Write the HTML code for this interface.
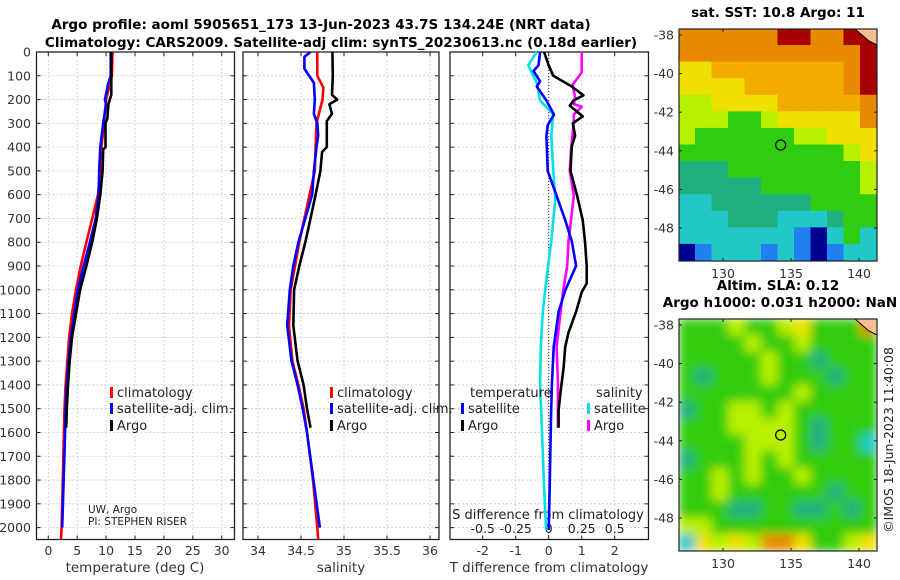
<!DOCTYPE html>
<html><head><meta charset="utf-8"><style>
html,body{margin:0;padding:0;background:#fff;}
svg{display:block;font-family:"DejaVu Sans","Liberation Sans",sans-serif;}
</style></head><body>
<svg id="fig" width="900" height="580" viewBox="0 0 900 580" xmlns="http://www.w3.org/2000/svg">
<g id="titles" font-weight="bold" font-size="13.5" text-anchor="middle">
<text x="321" y="29">Argo profile: aoml 5905651_173 13-Jun-2023 43.7S 134.24E (NRT data)</text>
<text x="341" y="47">Climatology: CARS2009. Satellite-adj clim: synTS_20230613.nc (0.18d earlier)</text>
</g>
<g id="layer"></g>
</svg>
<script>
// ---------- data ----------
const depthTicks = [0,100,200,300,400,500,600,700,800,900,1000,1100,1200,1300,1400,1500,1600,1700,1800,1900,2000];
const tempTicks = [0,5,10,15,20,25,30];
const salTicks = [34,34.5,35,35.5,36];
const salTickLabels = ["34","34.5","35","35.5","36"];
const tdiffTicks = [-2,-1,0,1,2];
const sdiffTickLabels = ["-0.5","-0.25","0","0.25","0.5"];
const sdiffTicks = [-0.5,-0.25,0,0.25,0.5];

const climTDepth = [0,100,200,300,400,500,600,700,800,900,1000,1100,1200,1300,1400,1500,1600,1800,2000,2050];
const climT = [11.1,11.0,10.0,9.6,9.2,9.0,8.6,7.6,6.6,5.6,4.8,4.1,3.6,3.3,3.0,2.8,2.7,2.5,2.3,2.2];
const satTDepth = [0,100,130,200,220,300,400,500,600,700,800,900,1000,1100,1200,1300,1400,1500,1600,2000];
const satT = [10.8,10.8,10.4,9.8,10.0,9.5,9.0,8.8,8.7,8.2,7.2,6.1,5.1,4.5,3.9,3.5,3.2,3.0,2.9,2.4];
const argoTDepth = [0,100,180,220,280,300,400,410,500,600,700,800,900,1000,1100,1200,1300,1400,1500,1580];
const argoT = [10.9,10.9,10.9,10.4,10.2,9.9,9.9,9.5,9.4,9.0,8.4,7.6,6.6,5.5,4.8,4.1,3.7,3.4,3.2,3.1];

const climSDepth = [0,100,150,200,300,400,500,600,700,800,900,1000,1150,1300,1400,1500,1600,1800,2000,2050];
const climS = [34.69,34.69,34.76,34.75,34.68,34.67,34.66,34.60,34.54,34.48,34.43,34.38,34.36,34.40,34.47,34.53,34.57,34.64,34.69,34.70];
const satSDepth = [0,20,70,130,200,260,300,350,400,500,600,700,800,900,1000,1150,1300,1400,1500,1600,2000];
const satS = [34.61,34.54,34.54,34.65,34.66,34.65,34.69,34.70,34.68,34.65,34.63,34.55,34.47,34.41,34.37,34.34,34.39,34.46,34.52,34.57,34.72];
const argoSDepth = [0,100,180,200,220,260,290,400,420,500,600,700,800,900,1000,1150,1300,1400,1500,1580];
const argoS = [34.865,34.87,34.86,34.92,34.83,34.86,34.80,34.80,34.745,34.725,34.67,34.61,34.55,34.48,34.42,34.41,34.46,34.53,34.57,34.61];

const argoTdDepth = [0,56,100,145,182,204,226,271,300,352,396,500,604,707,796,899,973,1010,1092,1180,1240,1328,1417,1506,1580];
const argoTd = [-0.14,0,0.14,0.7,1.05,0.75,0.64,1.03,0.73,0.8,0.7,0.66,0.86,1.03,1.1,1.15,1.15,1.0,0.83,0.6,0.5,0.45,0.37,0.3,0.3];
const satTdDepth = [0,56,80,123,145,204,263,308,352,500,589,707,796,899,1003,1092,1240,1387,1535,1831,2009];
const satTd = [-0.26,-0.31,-0.46,-0.26,-0.36,-0.07,0.16,-0.03,-0.07,-0.03,0.2,0.5,0.7,0.83,0.5,0.3,0.15,0.1,0.07,0.03,0];
const satSdDepth = [0,56,130,204,263,352,500,618,796,944,1092,1240,1387,1535,1831,2009];
const satSd = [-0.09,-0.155,-0.09,-0.065,0.035,0.02,0.035,0.05,0.02,-0.015,-0.045,-0.06,-0.065,-0.055,-0.035,-0.02];
const argoSdDepth = [0,86,138,189,219,230,263,293,411,500,604,796,899,1003,1092,1240,1387,1580];
const argoSd = [0.25,0.25,0.18,0.2,0.19,0.25,0.19,0.19,0.17,0.16,0.19,0.15,0.14,0.11,0.09,0.06,0.07,0.07];

const latTicks = [-38,-40,-42,-44,-46,-48];
const lonTicks = [130,135,140];
const argoLon = 134.24, argoLat = -43.7;

// coarse colour grids (rows top->bottom)
const sstGrid = [
"OOOOOORROORR",
"OOOOOOOOOOOR",
"YYooooooooOR",
"YYYYooooooOR",
"yyYYYYoooooO",
"yyyGGyYYYYYO",
"yGGGGGGyyYYY",
"GGGGGGGGGGyY",
"TTTGGGGGGGGy",
"TTTTTGGGGGGy",
"CCTTTTTTGGGG",
"CCCTTTCCCTGG",
"CCCCCCCBNCGC",
"NBCCCBCBNBCC"];
const slaGrid = [
"GGGyGGyYGGGO",
"GGGGyGGyGGGG",
"GGGGGyGGTGGG",
"GTGGGyGGGTGG",
"GGGGGGGyGGGG",
"TGGyyGyGGGGG",
"GGGyyyyGTGGG",
"GGGGyyyGTGGC",
"TGGGyGyGGGGG",
"GGyGyGGyGGGG",
"GGyGGGGGGTGG",
"GGGTTGGTTGTG",
"yyGGGGGGGGGG",
"CYyYyOOYGGyY"];
const palette = {R:"#a80000",O:"#e88a00",o:"#f2ac00",Y:"#f0e000",y:"#b8f000",G:"#30cc10",T:"#20b080",C:"#20c8c8",B:"#2080f0",N:"#000090"};

// ---------- helpers ----------
const NS = "http://www.w3.org/2000/svg";
const layer = document.getElementById("layer");
function mk(tag, attrs, parent, text){
  const e = document.createElementNS(NS, tag);
  for (const k in attrs) e.setAttribute(k, attrs[k]);
  if (text !== undefined) e.textContent = text;
  (parent||layer).appendChild(e);
  return e;
}
const TOP = 52, BOT = 539.5;
function yD(d){ return TOP + d * (BOT-TOP)/2050; }

const panels = [
  {name:"temperature-panel", x0:36.5, x1:234.5, fx:v=>48.3+v*5.78},
  {name:"salinity-panel", x0:243, x1:439, fx:v=>258+(v-34)*86},
  {name:"difference-panel", x0:450, x1:648.5, fx:v=>548.7+v*33}
];
const fxS = v=>548.7+v*132;

panels.forEach((p,i)=>{
  const g = mk("g",{});
  
  
  depthTicks.forEach(d=>{
    const l = mk("line",{x1:p.x0,x2:p.x1,y1:yD(d),y2:yD(d),stroke:"#c4c8e4","stroke-width":0.8,"stroke-dasharray":"2,2"},g);
    
    
    mk("line",{x1:p.x0,x2:p.x0+4,y1:yD(d),y2:yD(d),stroke:"#222"},g);
    mk("line",{x1:p.x1-4,x2:p.x1,y1:yD(d),y2:yD(d),stroke:"#222"},g);
  });
  const xt = i===0?tempTicks:(i===1?salTicks:tdiffTicks);
  xt.forEach(v=>{
    const x = p.fx(v);
    const l = mk("line",{x1:x,x2:x,y1:TOP,y2:BOT,stroke:"#c4c8e4","stroke-width":0.8,"stroke-dasharray":"2,2"},g);
    
    
    mk("line",{x1:x,x2:x,y1:BOT-4,y2:BOT,stroke:"#222"},g);
    mk("line",{x1:x,x2:x,y1:TOP,y2:TOP+4,stroke:"#222"},g);
    const lab = i===1?salTickLabels[salTicks.indexOf(v)]:String(v);
    const t = mk("text",{x:x,y:555,"font-size":12.5,"text-anchor":"middle",fill:"#333"},g,lab);
    
    
  });
  const fr = mk("rect",{x:p.x0,y:TOP,width:p.x1-p.x0,height:BOT-TOP,fill:"none",stroke:"#222","stroke-width":1.3},g);
  
  
});
depthTicks.forEach(d=>{
  const t = mk("text",{x:31,y:yD(d)+4.5,"font-size":12.5,"text-anchor":"end",fill:"#333"},layer,String(d));
  
  
});
[["temperature (deg C)",135,"x-axis-title-temperature"],["salinity",341,"x-axis-title-salinity"],["T difference from climatology",549,"x-axis-title-t-difference"]].forEach(a=>{
  const t = mk("text",{x:a[1],y:572,"font-size":13.5,"text-anchor":"middle",fill:"#333"},layer,a[0]);
  
  
});
const z = mk("line",{x1:548.7,x2:548.7,y1:TOP,y2:BOT,stroke:"#333","stroke-width":1,"stroke-dasharray":"1,2"});


const sdt = mk("text",{x:548,y:519,"font-size":13,"text-anchor":"middle",fill:"#222"},layer,"S difference from climatology");


sdiffTicks.forEach((v,i)=>{
  const t = mk("text",{x:fxS(v),y:533,"font-size":12.5,"text-anchor":"middle",fill:"#222"},layer,sdiffTickLabels[i]);
  
  
});

function line(depths, vals, fx, color, name){
  const pts = depths.map((d,i)=>fx(vals[i]).toFixed(1)+","+yD(d).toFixed(1)).join(" ");
  const e = mk("polyline",{points:pts,fill:"none",stroke:color,"stroke-width":2.6,"stroke-linejoin":"round"});
  
  
}
line(climTDepth,climT,panels[0].fx,"#ff0000","climatology-temperature-line");
line(satTDepth,satT,panels[0].fx,"#0000ff","satellite-temperature-line");
line(argoTDepth,argoT,panels[0].fx,"#000000","argo-temperature-line");
line(climSDepth,climS,panels[1].fx,"#ff0000","climatology-salinity-line");
line(satSDepth,satS,panels[1].fx,"#0000ff","satellite-salinity-line");
line(argoSDepth,argoS,panels[1].fx,"#000000","argo-salinity-line");
line(satSdDepth,satSd,fxS,"#00e0e8","satellite-s-difference-line");
line(argoSdDepth,argoSd,fxS,"#ff00ff","argo-s-difference-line");
line(satTdDepth,satTd,panels[2].fx,"#0000ff","satellite-t-difference-line");
line(argoTdDepth,argoTd,panels[2].fx,"#000000","argo-t-difference-line");

function legend(x,y,color,label,name){
  const g = mk("g",{});
  
  
  if(color) mk("rect",{x:x,y:y-10,width:3,height:11,fill:color},g);
  mk("text",{x:x+7,y:y,"font-size":13,fill:"#222"},g,label);
}
legend(110,397,"#ff0000","climatology","legend-climatology");
legend(110,413,"#0000ff","satellite-adj. clim.","legend-satellite-adj");
legend(110,430,"#000000","Argo","legend-argo");
legend(330,397,"#ff0000","climatology","legend-climatology-sal");
legend(330,413,"#0000ff","satellite-adj. clim.","legend-satellite-adj-sal");
legend(330,430,"#000000","Argo","legend-argo-sal");
legend(463,397,null,"temperature","legend-temperature-heading");
legend(461,413,"#0000ff","satellite","legend-t-satellite");
legend(461,430,"#000000","Argo","legend-t-argo");
legend(589,397,null,"salinity","legend-salinity-heading");
legend(587,413,"#00e0e8","satellite","legend-s-satellite");
legend(587,430,"#ff00ff","Argo","legend-s-argo");
const c1 = mk("text",{x:88,y:513,"font-size":10.5,fill:"#222"},layer,"UW, Argo");
 
const c2 = mk("text",{x:88,y:525,"font-size":10.5,fill:"#222"},layer,"PI: STEPHEN RISER");
 

function map(y0, grid, title1, title2, name, blur){
  const x0 = 679, w = 198, h = 232;
  const g = mk("g",{});
  
  
  const cw = w/grid[0].length, ch = h/grid.length;
  const cells = mk("g",{"clip-path":"url(#clip"+y0+")",filter:blur?"url(#bl)":""},g);
  const cp = mk("clipPath",{id:"clip"+y0},g);
  mk("rect",{x:x0,y:y0,width:w,height:h},cp);
  grid.forEach((row,r)=>{
    for(let c=0;c<row.length;c++){
      mk("rect",{x:x0+c*cw-0.5,y:y0+r*ch-0.5,width:cw+1,height:ch+1,fill:palette[row[c]]},cells);
    }
  });
  const fy = lat=>y0+6+(-38-lat)*19.3;
  const fxm = lon=>723+(lon-130)*13.6;
  latTicks.forEach(l=>{
    mk("line",{x1:x0,x2:x0+3,y1:fy(l),y2:fy(l),stroke:"#222"},g);
    mk("line",{x1:x0+w-3,x2:x0+w,y1:fy(l),y2:fy(l),stroke:"#222"},g);
    const t = mk("text",{x:x0-5,y:fy(l)+4.5,"font-size":12.5,"text-anchor":"end",fill:"#333"},g,String(l));
     
  });
  lonTicks.forEach(l=>{
    mk("line",{x1:fxm(l),x2:fxm(l),y1:y0+h-3,y2:y0+h,stroke:"#222"},g);
    mk("line",{x1:fxm(l),x2:fxm(l),y1:y0,y2:y0+3,stroke:"#222"},g);
    const t = mk("text",{x:fxm(l),y:y0+h+17,"font-size":12.5,"text-anchor":"middle",fill:"#333"},g,String(l));
     
  });
  mk("path",{d:`M${x0+w-22},${y0} L${x0+w-8},${y0+12} L${x0+w},${y0+16} L${x0+w},${y0} Z`,fill:"#f8c090",stroke:"#000","stroke-width":1},g);
  const m = mk("circle",{cx:fxm(argoLon),cy:fy(argoLat),r:5,fill:"none",stroke:"#000","stroke-width":1.2},g);
   
  mk("rect",{x:x0,y:y0,width:w,height:h,fill:"none",stroke:"#222","stroke-width":1.2},g);
  const t1 = mk("text",{x:778,y:title2?y0-29:y0-12,"font-size":13.5,"font-weight":"bold","text-anchor":"middle"},g,title1);
   
  if(title2){
    const t2 = mk("text",{x:780,y:y0-12,"font-size":13.5,"font-weight":"bold","text-anchor":"middle"},g,title2);
     
  }
}
const defs = mk("defs",{});
const f = mk("filter",{id:"bl",x:"0",y:"0",width:"1",height:"1"},defs);
mk("feGaussianBlur",{stdDeviation:"5"},f);
map(29, sstGrid, "sat. SST: 10.8 Argo: 11", null, "sst-map", false);
map(319, slaGrid, "Altim. SLA: 0.12", "Argo h1000: 0.031 h2000: NaN", "sla-map", true);
const cr = mk("text",{x:0,y:0,"font-size":12.5,"text-anchor":"middle",fill:"#222",transform:"translate(893,440) rotate(-90)"},layer,"©IMOS 18-Jun-2023 11:40:08");
 
</script>
</body></html>
